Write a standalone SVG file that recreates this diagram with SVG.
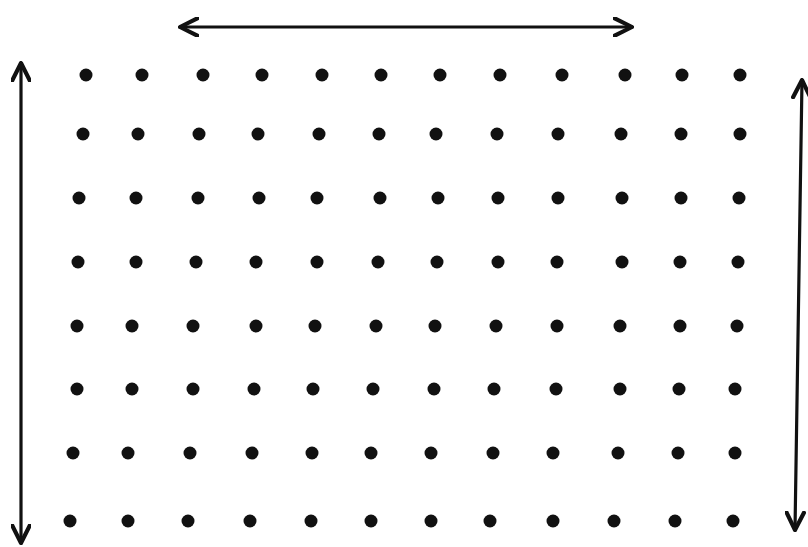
<svg xmlns="http://www.w3.org/2000/svg" width="808" height="547" viewBox="0 0 808 547">
<style>
.d{fill:#111}
.a{stroke:#111;stroke-width:3.2;fill:none;stroke-linecap:round;stroke-linejoin:round}
</style>
<defs>
<marker id="h" viewBox="0 0 12 12" refX="11" refY="6" markerWidth="6.5" markerHeight="6.5" orient="auto-start-reverse" markerUnits="strokeWidth">
<path d="M1,1 L11,6 L1,11" fill="none" stroke="#111" stroke-width="2.4" stroke-linecap="round" stroke-linejoin="round"/>
</marker>
<circle id="c" r="6.5"/>
</defs>
<rect width="808" height="547" fill="#fff"/>
<g id="arrows">
<line class="a" x1="180" y1="27" x2="632" y2="27" marker-start="url(#h)" marker-end="url(#h)"/>
<line class="a" x1="21" y1="63" x2="21" y2="543" marker-start="url(#h)" marker-end="url(#h)"/>
<line class="a" x1="802" y1="80" x2="795" y2="530" marker-start="url(#h)" marker-end="url(#h)"/>
</g>
<g id="dots" class="d">
<g transform="translate(0,75)"><use href="#c" x="86"/><use href="#c" x="142"/><use href="#c" x="203"/><use href="#c" x="262"/><use href="#c" x="322"/><use href="#c" x="381"/><use href="#c" x="440"/><use href="#c" x="500"/><use href="#c" x="562"/><use href="#c" x="625"/><use href="#c" x="682"/><use href="#c" x="740"/></g>
<g transform="translate(0,134)"><use href="#c" x="83"/><use href="#c" x="138"/><use href="#c" x="199"/><use href="#c" x="258"/><use href="#c" x="319"/><use href="#c" x="379"/><use href="#c" x="436"/><use href="#c" x="497"/><use href="#c" x="558"/><use href="#c" x="621"/><use href="#c" x="681"/><use href="#c" x="740"/></g>
<g transform="translate(0,198)"><use href="#c" x="79"/><use href="#c" x="136"/><use href="#c" x="198"/><use href="#c" x="259"/><use href="#c" x="317"/><use href="#c" x="380"/><use href="#c" x="438"/><use href="#c" x="498"/><use href="#c" x="558"/><use href="#c" x="622"/><use href="#c" x="681"/><use href="#c" x="739"/></g>
<g transform="translate(0,262)"><use href="#c" x="78"/><use href="#c" x="136"/><use href="#c" x="196"/><use href="#c" x="256"/><use href="#c" x="317"/><use href="#c" x="378"/><use href="#c" x="437"/><use href="#c" x="498"/><use href="#c" x="557"/><use href="#c" x="622"/><use href="#c" x="680"/><use href="#c" x="738"/></g>
<g transform="translate(0,326)"><use href="#c" x="77"/><use href="#c" x="132"/><use href="#c" x="193"/><use href="#c" x="256"/><use href="#c" x="315"/><use href="#c" x="376"/><use href="#c" x="435"/><use href="#c" x="496"/><use href="#c" x="557"/><use href="#c" x="620"/><use href="#c" x="680"/><use href="#c" x="737"/></g>
<g transform="translate(0,389)"><use href="#c" x="77"/><use href="#c" x="132"/><use href="#c" x="193"/><use href="#c" x="254"/><use href="#c" x="313"/><use href="#c" x="373"/><use href="#c" x="434"/><use href="#c" x="494"/><use href="#c" x="556"/><use href="#c" x="620"/><use href="#c" x="679"/><use href="#c" x="735"/></g>
<g transform="translate(0,453)"><use href="#c" x="73"/><use href="#c" x="128"/><use href="#c" x="190"/><use href="#c" x="252"/><use href="#c" x="312"/><use href="#c" x="371"/><use href="#c" x="431"/><use href="#c" x="493"/><use href="#c" x="553"/><use href="#c" x="618"/><use href="#c" x="678"/><use href="#c" x="735"/></g>
<g transform="translate(0,521)"><use href="#c" x="70"/><use href="#c" x="128"/><use href="#c" x="188"/><use href="#c" x="250"/><use href="#c" x="311"/><use href="#c" x="371"/><use href="#c" x="431"/><use href="#c" x="490"/><use href="#c" x="553"/><use href="#c" x="614"/><use href="#c" x="675"/><use href="#c" x="733"/></g>
</g>
</svg>
